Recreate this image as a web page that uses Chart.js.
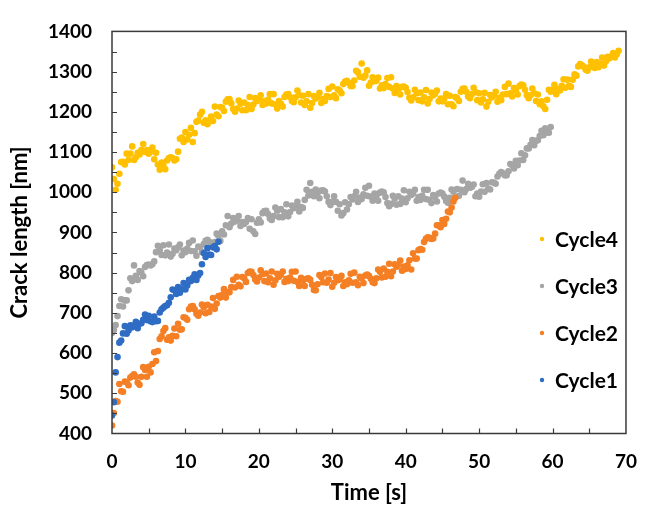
<!DOCTYPE html>
<html><head><meta charset="utf-8">
<script src="https://cdn.jsdelivr.net/npm/chart.js@4.4.1/dist/chart.umd.min.js"></script>
<style>html,body{margin:0;padding:0;background:#fff;}canvas{display:block;}</style>
</head><body>
<canvas id="c" width="654" height="509"></canvas>
<script>
// ---- data ----
const seriesNames = ['Cycle1', 'Cycle2', 'Cycle3', 'Cycle4'];
const seriesColors = ['#2F6CC4', '#F47F24', '#A5A5A5', '#FFC000'];
const sampleStep = 0.25; // seconds between plotted samples

const cycle1 = [
  445, 478, 552, 590, 626, 631, 649, 667, 648, 656, 669, 664, 669, 678, 662, 673,
  674, 683, 696, 682, 693, 679, 677, 691, 679, 680, 701, 709, 713, 717, 719, 725,
  739, 758, 756, 747, 764, 750, 759, 774, 758, 768, 782, 779, 787, 796, 782, 793,
  799, 821, 849, 839, 861, 845, 844, 863, 866, 858, 877
];
const cycle2 = [
  420, 451, 481, 479, 523, 505, 504, 529, 528, 520, 539, 543, 547, 541, 527, 521,
  541, 565, 558, 541, 566, 552, 573, 602, 580, 605, 635, 642, 655, 662, 633, 639,
  631, 643, 661, 642, 673, 658, 659, 689, 688, 683, 709, 716, 717, 709, 698, 693,
  701, 721, 714, 699, 720, 702, 716, 737, 710, 723, 742, 738, 745, 759, 738, 752,
  751, 764, 782, 763, 790, 770, 766, 789, 786, 777, 799, 803, 802, 794, 783, 778,
  788, 806, 796, 779, 798, 776, 786, 803, 770, 781, 797, 790, 795, 803, 777, 785,
  779, 788, 802, 780, 803, 777, 767, 787, 780, 767, 785, 786, 782, 770, 757, 756,
  771, 794, 789, 776, 798, 775, 783, 799, 765, 775, 789, 781, 783, 792, 767, 776,
  771, 781, 797, 775, 800, 776, 769, 790, 786, 774, 793, 795, 792, 785, 776, 774,
  786, 808, 802, 788, 810, 790, 802, 822, 791, 803, 821, 815, 820, 830, 805, 815,
  809, 818, 831, 808, 848, 835, 835, 856, 859, 857, 876, 884, 888, 887, 884, 885,
  897, 918, 918, 913, 931, 921, 934, 952, 950, 962, 977, 986
];
const cycle3 = [
  650, 657, 670, 692, 717, 734, 716, 731, 731, 756, 786, 779, 818, 792, 782, 804,
  800, 791, 814, 819, 820, 818, 821, 828, 851, 867, 856, 844, 868, 843, 850, 870,
  840, 847, 860, 856, 863, 870, 843, 855, 851, 860, 874, 854, 880, 853, 842, 865,
  863, 851, 871, 879, 882, 877, 869, 865, 876, 897, 891, 879, 903, 895, 918, 941,
  913, 922, 936, 927, 930, 941, 916, 926, 921, 926, 936, 909, 933, 903, 896, 924,
  933, 925, 948, 953, 954, 946, 935, 931, 941, 962, 954, 938, 958, 938, 950, 970,
  940, 951, 967, 960, 965, 976, 952, 963, 961, 981, 1006, 992, 1023, 1001, 990, 1007,
  998, 985, 1004, 1005, 1002, 990, 976, 968, 976, 990, 976, 954, 970, 942, 948, 975,
  957, 970, 988, 982, 990, 1001, 976, 987, 983, 995, 1011, 991, 1016, 989, 979, 997,
  990, 979, 999, 1002, 1000, 988, 973, 965, 971, 991, 984, 969, 990, 971, 984, 1005,
  975, 985, 1001, 993, 997, 1006, 979, 988, 981, 991, 1006, 983, 1006, 981, 973, 993,
  988, 977, 997, 999, 997, 989, 978, 974, 986, 1007, 1001, 987, 1008, 991, 1006, 1029,
  1000, 1008, 1021, 1011, 1013, 1019, 990, 997, 989, 1002, 1020, 1001, 1023, 1009, 1007, 1025,
  1024, 1021, 1039, 1046, 1050, 1047, 1042, 1042, 1052, 1070, 1067, 1059, 1078, 1067, 1079, 1097,
  1080, 1092, 1109, 1109, 1118, 1130, 1117, 1128, 1129, 1140, 1153, 1142, 1159, 1149, 1148, 1162
];
const cycle4 = [
  1062, 1033, 1006, 1021, 1046, 1075, 1076, 1069, 1096, 1080, 1096, 1114, 1080, 1087, 1098, 1094,
  1105, 1120, 1100, 1105, 1096, 1101, 1111, 1082, 1098, 1069, 1056, 1074, 1066, 1057, 1079, 1085,
  1087, 1085, 1079, 1082, 1101, 1133, 1136, 1125, 1150, 1131, 1143, 1160, 1125, 1147, 1175, 1178,
  1193, 1200, 1173, 1179, 1169, 1176, 1188, 1177, 1213, 1193, 1189, 1212, 1210, 1202, 1225, 1231,
  1232, 1221, 1207, 1200, 1208, 1228, 1220, 1204, 1223, 1204, 1217, 1237, 1207, 1218, 1234, 1227,
  1230, 1241, 1217, 1227, 1221, 1230, 1244, 1221, 1244, 1218, 1208, 1227, 1220, 1213, 1237, 1243,
  1244, 1237, 1227, 1224, 1236, 1253, 1242, 1223, 1240, 1217, 1226, 1244, 1210, 1222, 1239, 1233,
  1237, 1247, 1222, 1232, 1227, 1239, 1257, 1237, 1263, 1241, 1234, 1256, 1253, 1246, 1269, 1275,
  1277, 1272, 1264, 1264, 1278, 1302, 1298, 1287, 1320, 1285, 1290, 1303, 1265, 1273, 1286, 1276,
  1277, 1285, 1258, 1266, 1259, 1269, 1284, 1262, 1286, 1258, 1247, 1264, 1256, 1243, 1262, 1263,
  1260, 1249, 1235, 1228, 1236, 1255, 1246, 1229, 1248, 1226, 1236, 1254, 1221, 1232, 1248, 1241,
  1245, 1253, 1226, 1233, 1226, 1233, 1244, 1219, 1240, 1219, 1214, 1237, 1234, 1227, 1250, 1257,
  1258, 1250, 1238, 1234, 1244, 1260, 1249, 1229, 1246, 1223, 1231, 1247, 1213, 1225, 1242, 1236,
  1240, 1250, 1225, 1235, 1229, 1243, 1262, 1244, 1270, 1246, 1238, 1259, 1253, 1243, 1264, 1268,
  1266, 1255, 1241, 1234, 1241, 1258, 1246, 1227, 1243, 1219, 1226, 1214, 1207, 1230, 1255, 1250,
  1255, 1267, 1244, 1256, 1253, 1265, 1281, 1260, 1280, 1265, 1262, 1280, 1293, 1290, 1313, 1319,
  1316, 1312, 1305, 1302, 1311, 1325, 1320, 1309, 1324, 1311, 1320, 1335, 1315, 1325, 1337, 1333,
  1338, 1346, 1335, 1343, 1352
];
const seriesValues = [cycle1, cycle2, cycle3, cycle4];

const xTickValues = [0, 10, 20, 30, 40, 50, 60, 70];
const yTickValues = [400, 500, 600, 700, 800, 900, 1000, 1100, 1200, 1300, 1400];
const xMinorTicks = [5, 10, 15, 20, 25, 30, 35, 40, 45, 50, 55, 60, 65];
const yMinorTicks = [450, 500, 550, 600, 650, 700, 750, 800, 850, 900, 950, 1000, 1050, 1100, 1150, 1200, 1250, 1300, 1350];

// ---- chart ----
const FONT = 'Lato, "Open Sans", "Liberation Sans", sans-serif';
const toPoints = ys => ys.map((v, i) => ({ x: i * sampleStep, y: v }));

const datasets = seriesNames.map((name, k) => ({
  label: name,
  data: toPoints(seriesValues[k]),
  backgroundColor: seriesColors[k],
  borderColor: seriesColors[k],
  borderWidth: 0,
  pointRadius: 3.3,
  pointHoverRadius: 3.3,
  showLine: false
}));

const framePlugin = {
  id: 'frame',
  afterDatasetsDraw(chart) {
    const { ctx, chartArea: a, scales: { x, y } } = chart;
    ctx.save();
    ctx.strokeStyle = '#3a3a3a';
    ctx.lineWidth = 1.5;
    ctx.strokeRect(a.left, a.top, a.right - a.left, a.bottom - a.top);
    ctx.lineWidth = 1.2;
    ctx.beginPath();
    xMinorTicks.forEach(v => {
      const px = Math.round(x.getPixelForValue(v)) + 0.5;
      ctx.moveTo(px, a.bottom); ctx.lineTo(px, a.bottom - 5);
    });
    yMinorTicks.forEach(v => {
      const py = Math.round(y.getPixelForValue(v)) + 0.5;
      ctx.moveTo(a.left, py); ctx.lineTo(a.left + 5, py);
    });
    ctx.stroke();
    // legend (reverse order, inside plot area)
    ctx.font = 'bold 21px ' + FONT;
    ctx.textBaseline = 'middle';
    ctx.textAlign = 'left';
    const order = [3, 2, 1, 0];
    order.forEach((k, i) => {
      const cy = 239 + i * 47;
      ctx.fillStyle = seriesColors[k];
      ctx.beginPath(); ctx.arc(542, cy, 2.2, 0, Math.PI * 2); ctx.fill();
      ctx.fillStyle = '#000';
      ctx.fillText(seriesNames[k], 555, cy + 1);
    });
    ctx.restore();
  }
};

new Chart(document.getElementById('c'), {
  type: 'scatter',
  data: { datasets },
  options: {
    responsive: false,
    animation: false,
    events: [],
    layout: { padding: { top: 18, right: 12, bottom: 0, left: 0 } },
    plugins: { legend: { display: false }, tooltip: { enabled: false } },
    scales: {
      x: {
        type: 'linear', min: 0, max: 70,
        afterBuildTicks: s => { s.ticks = xTickValues.map(v => ({ value: v })); },
        ticks: { color: '#000', font: { family: FONT, weight: 'bold', size: 19 }, padding: 17, maxRotation: 0, callback: v => String(v) },
        grid: { display: false, drawTicks: false },
        border: { display: false },
        title: { display: true, text: 'Time [s]', color: '#000', font: { family: FONT, weight: 'bold', size: 22 }, padding: { top: 0, bottom: 3 } },
        afterFit: s => { s.height = 75.5; }
      },
      y: {
        type: 'linear', min: 400, max: 1400,
        afterBuildTicks: s => { s.ticks = yTickValues.map(v => ({ value: v })); },
        ticks: { color: '#000', font: { family: FONT, weight: 'bold', size: 19 }, padding: 20, callback: v => String(v) },
        grid: { display: false, drawTicks: false },
        border: { display: false },
        title: { display: true, text: 'Crack length [nm]', color: '#000', font: { family: FONT, weight: 'bold', size: 22 }, padding: { top: 7, bottom: 0 } },
        afterFit: s => { s.width = 112; }
      }
    }
  },
  plugins: [framePlugin]
});
</script>
</body></html>
